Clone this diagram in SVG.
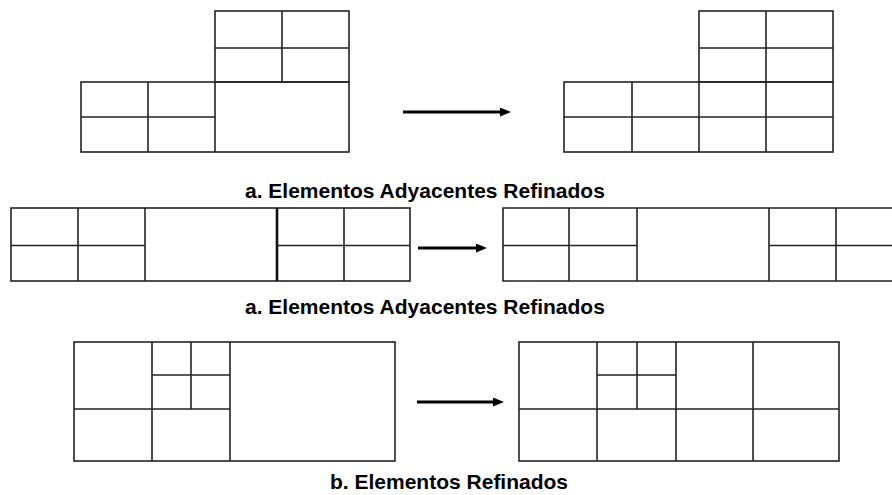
<svg xmlns="http://www.w3.org/2000/svg" width="892" height="495" viewBox="0 0 892 495">
<style>
.c{fill:none;stroke:#222;stroke-width:1.6}
.t{fill:none;stroke:#111;stroke-width:2.6}
.a{fill:none;stroke:#000;stroke-width:3}
.lbl{font-family:"Liberation Sans",Arial,sans-serif;font-weight:bold;font-size:21px;fill:#000}
</style>
<defs>
<marker id="ah" markerUnits="userSpaceOnUse" markerWidth="12" markerHeight="10" refX="3" refY="4.5" orient="auto">
<path d="M0,0 L11,4.5 L0,9 Z" fill="#000"/>
</marker>
</defs>
<rect width="892" height="495" fill="#fff"/>

<g id="mesh-a-before">
<rect class="c" x="215" y="11" width="134" height="71"/>
<line class="c" x1="282" y1="11" x2="282" y2="82"/>
<line class="c" x1="215" y1="48" x2="349" y2="48"/>
<rect class="c" x="81" y="82" width="268" height="70"/>
<line class="c" x1="148" y1="82" x2="148" y2="152"/>
<line class="c" x1="215" y1="82" x2="215" y2="152"/>
<line class="c" x1="81" y1="117" x2="215" y2="117"/>
</g>

<g id="mesh-a-after">
<rect class="c" x="699" y="11" width="134" height="71"/>
<line class="c" x1="766" y1="11" x2="766" y2="82"/>
<line class="c" x1="699" y1="48" x2="833" y2="48"/>
<rect class="c" x="564" y="82" width="269" height="70"/>
<line class="c" x1="632" y1="82" x2="632" y2="152"/>
<line class="c" x1="699" y1="82" x2="699" y2="152"/>
<line class="c" x1="766" y1="82" x2="766" y2="152"/>
<line class="c" x1="564" y1="117" x2="833" y2="117"/>
</g>

<g id="label-1">
<text class="lbl" x="245" y="198">a. Elementos Adyacentes Refinados</text>
</g>

<g id="strip-before">
<rect class="c" x="11" y="208" width="399" height="73"/>
<line class="c" x1="78" y1="208" x2="78" y2="281"/>
<line class="c" x1="145" y1="208" x2="145" y2="281"/>
<line class="t" x1="277" y1="208" x2="277" y2="281"/>
<line class="c" x1="344" y1="208" x2="344" y2="281"/>
<line class="c" x1="11" y1="245.5" x2="145" y2="245.5"/>
<line class="c" x1="277" y1="245.5" x2="410" y2="245.5"/>
</g>

<g id="strip-after">
<path class="c" d="M892,208 H503 V281 H892"/>
<line class="c" x1="569" y1="208" x2="569" y2="281"/>
<line class="c" x1="637" y1="208" x2="637" y2="281"/>
<line class="c" x1="769" y1="208" x2="769" y2="281"/>
<line class="c" x1="836" y1="208" x2="836" y2="281"/>
<line class="c" x1="503" y1="245.5" x2="637" y2="245.5"/>
<line class="c" x1="769" y1="245.5" x2="892" y2="245.5"/>
</g>

<g id="label-2">
<text class="lbl" x="245" y="314">a. Elementos Adyacentes Refinados</text>
</g>

<g id="mesh-b-before">
<rect class="c" x="74" y="342" width="321" height="119"/>
<line class="c" x1="152" y1="342" x2="152" y2="461"/>
<line class="c" x1="191" y1="342" x2="191" y2="409"/>
<line class="c" x1="230" y1="342" x2="230" y2="461"/>
<line class="c" x1="152" y1="375" x2="230" y2="375"/>
<line class="c" x1="74" y1="409" x2="230" y2="409"/>
</g>

<g id="mesh-b-after">
<rect class="c" x="519" y="342" width="320" height="119"/>
<line class="c" x1="597" y1="342" x2="597" y2="461"/>
<line class="c" x1="637" y1="342" x2="637" y2="409"/>
<line class="c" x1="676" y1="342" x2="676" y2="461"/>
<line class="c" x1="753" y1="342" x2="753" y2="461"/>
<line class="c" x1="597" y1="375" x2="676" y2="375"/>
<line class="c" x1="519" y1="409" x2="839" y2="409"/>
</g>

<g id="label-3">
<text class="lbl" x="330" y="489">b. Elementos Refinados</text>
</g>

<g id="connectors">
<line class="a" x1="403" y1="112" x2="503" y2="112" marker-end="url(#ah)"/>
<line class="a" x1="418" y1="248" x2="479" y2="248" marker-end="url(#ah)"/>
<line class="a" x1="417" y1="402" x2="496" y2="402" marker-end="url(#ah)"/>
</g>
</svg>
